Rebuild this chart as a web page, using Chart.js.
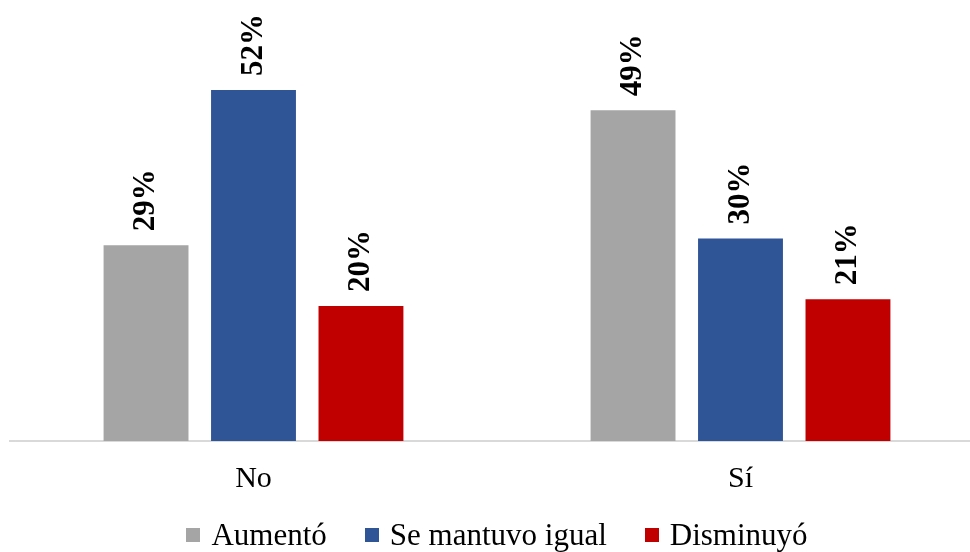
<!DOCTYPE html>
<html lang="es">
<head>
<meta charset="utf-8">
<script src="https://cdn.jsdelivr.net/npm/chart.js@4/dist/chart.umd.min.js"></script>
<style>
  html, body { margin: 0; padding: 0; background: #fff; overflow: hidden; }
  #wrap { position: absolute; left: 0; top: 0; width: 994px; height: 552px; }
  #chartBox { position: absolute; left: 0; top: 0; width: 994px; height: 522px; }
  #legend {
    position: absolute; left: 0; top: 517px; width: 994px;
    display: flex; justify-content: center; align-items: center;
    font-family: 'Liberation Serif', serif; font-size: 31px; color: #000;
  }
  .item { display: flex; align-items: center; margin: 0 19px; }
  .swatch { width: 14px; height: 14px; margin-right: 11px; }
</style>
</head>
<body>
<div id="wrap">
  <div id="chartBox"><canvas id="chart"></canvas></div>
  <div id="legend"></div>
</div>
<script>
// Categories and series (percent of respondents)
const categories = ["No", "Sí"];
const seriesNames = ["Aumentó", "Se mantuvo igual", "Disminuyó"];
const aumento = [29, 49];
const seMantuvo = [52, 30];
const disminuyo = [20, 21];
const seriesColors = ["#A5A5A5", "#2F5597", "#C00000"];

const serif = "'Liberation Serif', serif";

// Vertical bold value labels drawn above each bar
const valueLabels = {
  id: "valueLabels",
  afterDatasetsDraw(chart) {
    const ctx = chart.ctx;
    ctx.save();
    ctx.font = "bold 31px " + serif;
    ctx.fillStyle = "#000";
    ctx.textAlign = "left";
    ctx.textBaseline = "middle";
    chart.data.datasets.forEach((ds, di) => {
      chart.getDatasetMeta(di).data.forEach((bar, i) => {
        ctx.save();
        ctx.translate(bar.x, bar.y - 14);
        ctx.rotate(-Math.PI / 2);
        ctx.fillText(ds.data[i] + "%", 0, 0);
        ctx.restore();
      });
    });
    ctx.restore();
  }
};

const seriesData = [aumento, seMantuvo, disminuyo];

const chart = new Chart(document.getElementById("chart"), {
  type: "bar",
  data: {
    labels: categories,
    datasets: seriesNames.map((name, k) => ({
      label: name,
      data: seriesData[k],
      backgroundColor: seriesColors[k],
      categoryPercentage: 0.662,
      barPercentage: 0.79
    }))
  },
  options: {
    responsive: true,
    maintainAspectRatio: false,
    animation: false,
    layout: { padding: { left: 10, right: 10, top: 36, bottom: 5 } },
    plugins: { legend: { display: false }, tooltip: { enabled: false } },
    scales: {
      x: {
        grid: { display: false, drawTicks: false },
        border: { display: true, color: "#D9D9D9", width: 2 },
        ticks: { color: "#000", font: { family: serif, size: 30 }, padding: 20 }
      },
      y: {
        display: false,
        min: 0,
        max: 60
      }
    }
  },
  plugins: [valueLabels]
});

// Legend built from the chart's datasets
const legendEl = document.getElementById("legend");
chart.data.datasets.forEach(ds => {
  const item = document.createElement("div");
  item.className = "item";
  const sw = document.createElement("span");
  sw.className = "swatch";
  sw.style.background = ds.backgroundColor;
  const txt = document.createElement("span");
  txt.textContent = ds.label;
  item.appendChild(sw);
  item.appendChild(txt);
  legendEl.appendChild(item);
});
</script>
</body>
</html>
